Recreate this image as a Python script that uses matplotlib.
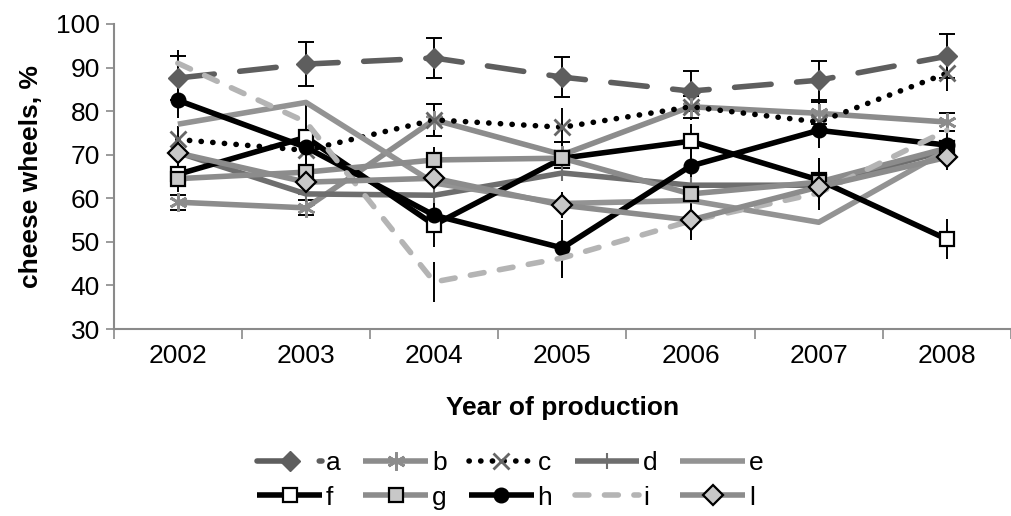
import matplotlib
matplotlib.use("Agg")
import matplotlib.pyplot as plt

years = ["2002", "2003", "2004", "2005", "2006", "2007", "2008"]

# percentages of cheese wheels per group and year
a = [87.6, 90.8, 92.2, 87.8, 84.6, 87.1, 92.6]
b = [59.1, 57.8, 78.0, 70.0, 81.0, 79.5, 77.5]
c = [73.5, 71.0, 78.0, 76.3, 81.0, 77.5, 88.7]
d = [70.5, 61.0, 60.7, 65.8, 63.0, 63.0, 71.0]
e = [77.0, 82.0, 63.5, 58.8, 59.5, 54.5, 71.0]
f = [65.5, 74.0, 53.9, 69.2, 73.1, 64.2, 50.6]
g = [64.5, 66.0, 68.8, 69.2, 61.0, 63.7, 71.5]
h = [82.5, 71.7, 56.1, 48.6, 67.4, 75.6, 72.2]
i = [91.0, 77.5, 40.8, 46.3, 54.8, 61.2, 75.6]
l = [70.4, 63.7, 64.6, 58.4, 55.0, 62.6, 69.4]

# error bar half-widths
a_err = [5.0, 5.0, 4.6, 4.6, 4.5, 4.5, 5.0]
b_err = [1.7, 1.7, 3.6, 3.0, 2.5, 2.5, 2.0]
c_err = [3.0, 3.0, 3.5, 4.5, 3.0, 3.0, 4.0]
f_err = [3.0, 4.0, 5.0, 4.0, 4.0, 5.0, 4.6]
g_err = [3.0, 3.0, 3.0, 3.0, 3.0, 5.0, 3.0]
h_err = [4.0, 4.0, 4.0, 6.5, 4.0, 4.0, 4.0]
i_err = [3.0, 4.0, 4.6, 4.5, 4.0, 4.0, 4.0]
l_err = [3.0, 3.0, 3.0, 3.0, 4.6, 3.0, 3.0]

plt.rcParams["font.family"] = ["Liberation Sans", "DejaVu Sans"]
FS = 19

fig = plt.figure(figsize=(10.11, 5.16), dpi=100)
ax = fig.add_axes([0.1125, 0.3624, 0.8875, 0.5911])
x = list(range(len(years)))

LW = 4.0
DARK = "#5e5e5e"
MID = "#8c8c8c"
LIGHT = "#b4b4b4"

styles = {
    "a": dict(color=DARK, dashes=(6.6, 4.6), dash_capstyle="round",
              marker="D", ms=10, mfc=DARK, mec=DARK),
    "b": dict(color=MID, marker=(6, 2, 0), ms=13, mec=MID, mew=2),
    "c": dict(color="black", dashes=(0.05, 2.05), dash_capstyle="round",
              marker="x", ms=12, mec="#666666", mew=2),
    "d": dict(color="#6e6e6e", marker="+", ms=12, mec="#6e6e6e", mew=1.5),
    "e": dict(color="#939393"),
    "f": dict(color="black", marker="s", ms=10, mfc="white", mec="black", mew=1.6),
    "g": dict(color=MID, marker="s", ms=10, mfc="#c8c8c8", mec="black", mew=1.6),
    "h": dict(color="black", marker="o", ms=10.5, mfc="black", mec="black"),
    "i": dict(color=LIGHT, dashes=(2.5, 2.8), dash_capstyle="round"),
    "l": dict(color=MID, marker="D", ms=10, mfc="#c8c8c8", mec="black", mew=1.6),
}

series = [("a", a), ("b", b), ("c", c), ("d", d), ("e", e),
          ("f", f), ("g", g), ("h", h), ("i", i), ("l", l)]
errors = {"a": (a_err, 6), "b": (b_err, 6), "c": (c_err, 0), "f": (f_err, 0),
          "g": (g_err, 0), "h": (h_err, 0), "i": (i_err, 0), "l": (l_err, 0)}

# error bars first so the lines and markers sit on top of them
for name, vals in series:
    if name in errors:
        err, cap = errors[name]
        ax.errorbar(x, vals, yerr=err, fmt="none", ecolor="black",
                    elinewidth=1.4, capsize=cap, capthick=1.4, zorder=1)

handles = {}
for k, (name, vals) in enumerate(series):
    st = styles[name]
    (ln,) = ax.plot(x, vals, lw=LW, label=name, zorder=2 + k * 0.1,
                    solid_capstyle="butt", **st)
    handles[name] = ln

ax.set_xlim(-0.5, 6.474)
ax.set_ylim(30, 100)
ax.set_yticks(range(30, 101, 10))
ax.set_xticks(x)
ax.set_xticklabels(years)
ax.set_xticks([k - 0.5 for k in range(8)], minor=True)
ax.tick_params(axis="x", which="major", length=0, pad=11, labelsize=FS)
ax.tick_params(axis="x", which="minor", length=7, width=1.2, color="#8a8a8a")
ax.tick_params(axis="y", length=6, width=1.2, color="#8a8a8a", labelsize=FS, pad=4)

for side in ("top", "right"):
    ax.spines[side].set_visible(False)
for side in ("left", "bottom"):
    ax.spines[side].set_color("#8a8a8a")
    ax.spines[side].set_linewidth(1.5)

ax.set_ylabel("cheese wheels, %", fontsize=FS, fontweight="bold", labelpad=9)
ax.set_xlabel("Year of production", fontsize=FS, fontweight="bold", labelpad=20)

# two legend rows: a-e on top, f-l underneath
order = ["a", "f", "b", "g", "c", "h", "d", "i", "e", "l"]
fig.legend([handles[n] for n in order], order, loc="center",
           bbox_to_anchor=(0.505, 0.069), ncol=5, frameon=False, fontsize=FS,
           handlelength=2.45, handletextpad=0.15, columnspacing=0.85,
           labelspacing=0.4)

fig.savefig("out.png", dpi=100)
